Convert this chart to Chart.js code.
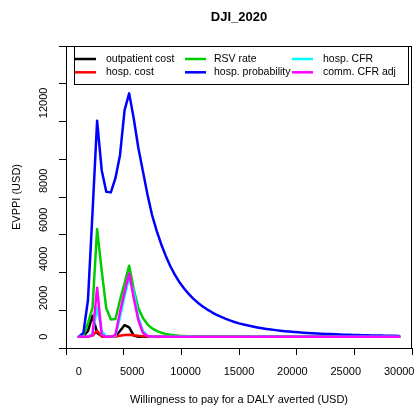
<!DOCTYPE html>
<html>
<head>
<meta charset="utf-8">
<title>DJI_2020</title>
<script src="https://cdn.jsdelivr.net/npm/chart.js@4.4.0/dist/chart.umd.min.js"></script>
<style>
  html, body { margin: 0; padding: 0; background: #fff; }
  canvas { display: block; }
</style>
</head>
<body>
<canvas id="chart1" width="414" height="411"></canvas>
<script>
'use strict';

// willingness to pay grid (USD), 71 points from 0 to 30000
var wtp = [0, 429, 857, 1286, 1714, 2143, 2571, 3000, 3429, 3857, 4286, 4714,
  5143, 5571, 6000, 6429, 6857, 7286, 7714, 8143, 8571, 9000, 9429, 9857,
  10286, 10714, 11143, 11571, 12000, 12429, 12857, 13286, 13714, 14143, 14571,
  15000, 15429, 15857, 16286, 16714, 17143, 17571, 18000, 18429, 18857, 19286,
  19714, 20143, 20571, 21000, 21429, 21857, 22286, 22714, 23143, 23571, 24000,
  24429, 24857, 25286, 25714, 26143, 26571, 27000, 27429, 27857, 28286, 28714,
  29143, 29571, 30000];

var outpatientCost = [0, 30, 300, 1080, 200, 40, 0, 0, 30, 300, 600, 480, 60, 0,
  0, 0, 0, 0, 0, 0, 0, 0, 0, 0, 0, 0, 0, 0, 0, 0, 0, 0, 0, 0, 0, 0, 0, 0, 0, 0,
  0, 0, 0, 0, 0, 0, 0, 0, 0, 0, 0, 0, 0, 0, 0, 0, 0, 0, 0, 0, 0, 0, 0, 0, 0, 0,
  0, 0, 0, 0, 0];

var hospCost = [0, 0, 20, 60, 300, 20, 0, 0, 10, 50, 90, 110, 80, 50, 30, 15, 5,
  0, 0, 0, 0, 0, 0, 0, 0, 0, 0, 0, 0, 0, 0, 0, 0, 0, 0, 0, 0, 0, 0, 0, 0, 0, 0,
  0, 0, 0, 0, 0, 0, 0, 0, 0, 0, 0, 0, 0, 0, 0, 0, 0, 0, 0, 0, 0, 0, 0, 0, 0, 0,
  0, 0];

var rsvRate = [0, 50, 700, 1500, 5530, 3400, 1460, 890, 910, 1890, 2760, 3650,
  2450, 1480, 960, 640, 430, 300, 210, 150, 105, 75, 52, 36, 25, 17, 12, 8, 6,
  5, 4, 3, 2, 2, 1, 1, 0, 0, 0, 0, 0, 0, 0, 0, 0, 0, 0, 0, 0, 0, 0, 0, 0, 0, 0,
  0, 0, 0, 0, 0, 0, 0, 0, 0, 0, 0, 0, 0, 0, 0, 0];

var hospProbability = [0, 200, 1890, 6400, 11080, 8550, 7440, 7410, 8140, 9320,
  11630, 12490, 11200, 9700, 8500, 7300, 6250, 5450, 4750, 4150, 3620, 3180,
  2800, 2480, 2200, 1960, 1750, 1570, 1410, 1270, 1140, 1030, 930, 840, 760, 690,
  630, 575, 525, 480, 440, 405, 372, 342, 315, 290, 268, 248, 230, 213, 198, 184,
  171, 159, 148, 138, 128, 119, 111, 103, 96, 89, 83, 77, 72, 67, 62, 58, 54, 50,
  46];

var hospCFR = [0, 0, 0, 150, 1500, 300, 0, 0, 50, 1000, 2100, 3000, 2300, 1000,
  300, 50, 0, 0, 0, 0, 0, 0, 0, 0, 0, 0, 0, 0, 0, 0, 0, 0, 0, 0, 0, 0, 0, 0, 0,
  0, 0, 0, 0, 0, 0, 0, 0, 0, 0, 0, 0, 0, 0, 0, 0, 0, 0, 0, 0, 0, 0, 0, 0, 0, 0,
  0, 0, 0, 0, 0, 0];

var commCFRAdj = [0, 0, 0, 100, 2520, 100, 0, 0, 100, 1270, 2310, 3250, 1990,
  860, 200, 40, 10, 0, 0, 0, 0, 0, 0, 0, 0, 0, 0, 0, 0, 0, 0, 0, 0, 0, 0, 0, 0,
  0, 0, 0, 0, 0, 0, 0, 0, 0, 0, 0, 0, 0, 0, 0, 0, 0, 0, 0, 0, 0, 0, 0, 0, 0, 0,
  0, 0, 0, 0, 0, 0, 0, 0];

var seriesLabels = ['outpatient cost', 'hosp. cost', 'RSV rate',
  'hosp. probability', 'hosp. CFR', 'comm. CFR adj'];
var seriesValues = [outpatientCost, hospCost, rsvRate, hospProbability, hospCFR, commCFRAdj];
var seriesColors = ['#000000', '#ff0000', '#00cd00', '#0000ff', '#00ffff', '#ff00ff'];

var xTicks = [0, 5000, 10000, 15000, 20000, 25000, 30000];
var yTicks = [0, 2000, 4000, 6000, 8000, 12000]; // R drops 10000 and 14000 labels

var FONT = '"Liberation Sans", Arial, Helvetica, sans-serif';


/**
 * Draws the R style frame, tick labels, titles and the legend box.
 */
var rDecorations = {
  id: 'rDecorations',
  afterDraw: function (chart) {
    var ctx = chart.ctx;
    var area = chart.chartArea;
    var xs = chart.scales.x;
    var ys = chart.scales.y;

    ctx.save();
    ctx.strokeStyle = '#000';
    ctx.lineWidth = 1;
    ctx.strokeRect(area.left + 0.5, area.top + 0.5, area.right - area.left - 1, area.bottom - area.top);

    ctx.fillStyle = '#000';
    ctx.font = 'bold 13px ' + FONT;
    ctx.textAlign = 'center';
    ctx.textBaseline = 'middle';
    ctx.fillText('DJI_2020', (area.left + area.right) / 2, 17);

    ctx.font = '11px ' + FONT;
    xTicks.forEach(function (v) {
      ctx.fillText(String(v), xs.getPixelForValue(v), 372);
    });
    ctx.fillText('Willingness to pay for a DALY averted (USD)', (area.left + area.right) / 2, 400);

    yTicks.forEach(function (v) {
      ctx.save();
      ctx.translate(43.5, ys.getPixelForValue(v));
      ctx.rotate(-Math.PI / 2);
      ctx.fillText(String(v), 0, 0);
      ctx.restore();
    });
    ctx.save();
    ctx.translate(17, (area.top + area.bottom) / 2);
    ctx.rotate(-Math.PI / 2);
    ctx.fillText('EVPPI (USD)', 0, 0);
    ctx.restore();

    // legend, filled column by column like R's legend(ncol = 3)
    ctx.fillStyle = '#fff';
    ctx.fillRect(74, 46, 334.5, 38.5);
    ctx.strokeStyle = '#000';
    ctx.strokeRect(74.5, 46.5, 334, 38);
    var lineX = [75, 185, 292];
    var textX = [106, 214, 323];
    var rowY = [59, 72.3];
    ctx.font = '10.5px ' + FONT;
    ctx.textAlign = 'left';
    chart.data.datasets.forEach(function (ds, i) {
      var col = Math.floor(i / 2);
      var row = i % 2;
      ctx.strokeStyle = ds.borderColor;
      ctx.lineWidth = 2.5;
      ctx.beginPath();
      ctx.moveTo(lineX[col], rowY[row]);
      ctx.lineTo(lineX[col] + 21, rowY[row]);
      ctx.stroke();
      ctx.fillStyle = '#000';
      ctx.fillText(ds.label, textX[col], rowY[row]);
    });
    ctx.restore();
  }
};


function buildDatasets() {
  return seriesValues.map(function (values, i) {
    return {
      label: seriesLabels[i],
      data: wtp.map(function (w, k) { return { x: w, y: values[k] }; }),
      borderColor: seriesColors[i],
      backgroundColor: seriesColors[i],
      borderWidth: 2.5,
      borderJoinStyle: 'round',
      borderCapStyle: 'round',
      pointRadius: 0,
      tension: 0,
      fill: false,
      order: seriesValues.length - i   // later series drawn on top, as in R
    };
  });
}


function renderChart() {
  var ctx = document.getElementById('chart1').getContext('2d');
  new Chart(ctx, {
    type: 'line',
    data: { datasets: buildDatasets() },
    plugins: [rDecorations],
    options: {
      responsive: false,
      animation: false,
      layout: { padding: { top: 46, right: 2, left: 0, bottom: 0 } },
      plugins: { legend: { display: false }, tooltip: { enabled: false }, title: { display: false } },
      scales: {
        x: {
          type: 'linear',
          min: -1200,
          max: 31200,
          ticks: { stepSize: 5000, includeBounds: false, display: false },
          grid: { drawOnChartArea: false, drawTicks: true, tickLength: 7, color: '#000' },
          border: { display: false },
          afterFit: function (s) { s.height = 63; }
        },
        y: {
          type: 'linear',
          min: -575,
          max: 14920,
          ticks: { stepSize: 2000, includeBounds: false, display: false },
          grid: { drawOnChartArea: false, drawTicks: true, tickLength: 7, color: '#000' },
          border: { display: false },
          afterFit: function (s) { s.width = 66; }
        }
      }
    }
  });
}

renderChart();
</script>
</body>
</html>
